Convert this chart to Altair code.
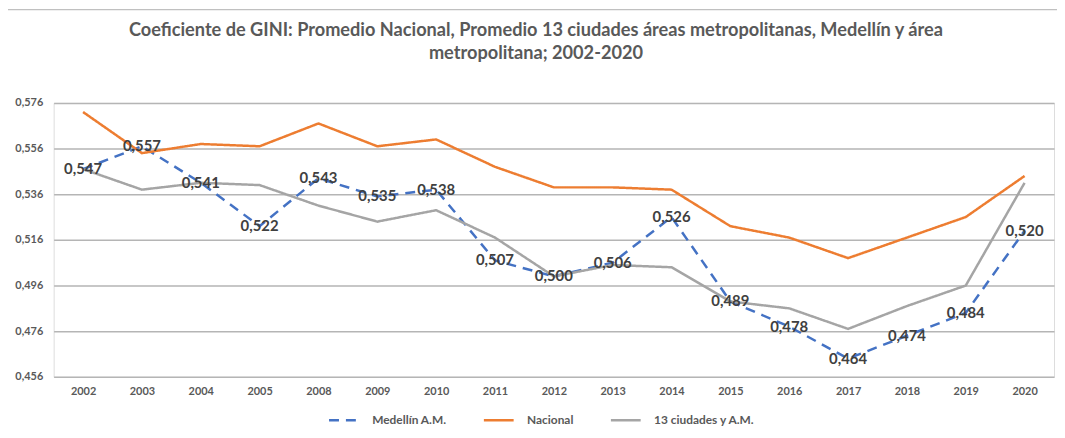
import altair as alt
import pandas as pd

years = ["2002", "2003", "2004", "2005", "2008", "2009", "2010", "2011", "2012",
         "2013", "2014", "2015", "2016", "2017", "2018", "2019", "2020"]
medellin = [0.547, 0.557, 0.541, 0.522, 0.543, 0.535, 0.538, 0.507, 0.500,
            0.506, 0.526, 0.489, 0.478, 0.464, 0.474, 0.484, 0.520]
nacional = [0.572, 0.554, 0.558, 0.557, 0.567, 0.557, 0.560, 0.548, 0.539,
            0.539, 0.538, 0.522, 0.517, 0.508, 0.517, 0.526, 0.544]
ciudades = [0.547, 0.538, 0.541, 0.540, 0.531, 0.524, 0.529, 0.517, 0.500,
            0.505, 0.504, 0.489, 0.486, 0.477, 0.487, 0.496, 0.541]
series_names = ["Medellín A.M.", "Nacional", "13 ciudades y A.M."]
series_colors = ["#4472C4", "#ED7D31", "#A5A5A5"]
y_ticks = [0.456, 0.476, 0.496, 0.516, 0.536, 0.556, 0.576]
title_lines = ["Coeficiente de GINI: Promedio Nacional, Promedio 13 ciudades áreas metropolitanas, Medellín y área",
               "metropolitana; 2002-2020"]

rows = []
for name, vals in zip(series_names, [medellin, nacional, ciudades]):
    for y, v in zip(years, vals):
        rows.append({"anio": y, "valor": v, "serie": name})
df = pd.DataFrame(rows)

FONT = "Lato"
fmt = "replace(format(datum.value, '.3f'), '.', ',')"

x_enc = alt.X("anio:N", sort=years, scale=alt.Scale(type="point", padding=0.5),
              axis=alt.Axis(title=None, labelFont=FONT, labelFontSize=11, labelFontWeight="bold",
                            labelColor="#595959", labelPadding=9, ticks=False, domain=False,
                            grid=False, labelAngle=0))
y_enc = alt.Y("valor:Q", scale=alt.Scale(domain=[0.456, 0.576], nice=False, zero=False),
              axis=alt.Axis(title=None, values=y_ticks, labelExpr=fmt, labelFont=FONT,
                            labelFontSize=11, labelFontWeight="bold", labelColor="#595959",
                            labelPadding=11, ticks=False, domain=False, grid=True,
                            gridColor="#b5b5b5", gridWidth=1.5))

legend = alt.Legend(title=None, orient="none", legendX=276, legendY=303,
                    direction="horizontal", symbolType="stroke",
                    symbolSize=900, symbolStrokeWidth=2.5,
                    labelFont=FONT, labelFontSize=12, labelFontWeight="bold",
                    labelColor="#595959", labelOffset=12, columnPadding=32)

base = alt.Chart(df)

lines = base.mark_line(strokeWidth=2.5).encode(
    x=x_enc,
    y=y_enc,
    color=alt.Color("serie:N", scale=alt.Scale(domain=series_names, range=series_colors),
                    sort=series_names, legend=legend),
    strokeDash=alt.StrokeDash("serie:N", scale=alt.Scale(domain=series_names,
                                                         range=[[10, 7], [1, 0], [1, 0]]),
                              sort=series_names, legend=legend),
    order=alt.Order("anio:N"),
)

labels = base.transform_filter(alt.datum.serie == "Medellín A.M.").transform_calculate(
    etiqueta="replace(format(datum.valor, '.3f'), '.', ',')"
).mark_text(font=FONT, fontSize=15, fontWeight="bold", color="#404040",
            align="center", baseline="middle").encode(
    x=alt.X("anio:N", sort=years), y="valor:Q", text="etiqueta:N")

frame_df = pd.DataFrame({"k": [0]})
top_line = alt.Chart(frame_df).mark_rule(color="#c0c0c0", strokeWidth=1.5).encode(
    x=alt.value(-47), x2=alt.value(1011), y=alt.value(-94))
left_line = alt.Chart(frame_df).mark_rule(color="#c0c0c0", strokeWidth=1.5).encode(
    x=alt.value(-47), y=alt.value(-94), y2=alt.value(336))

title = alt.Chart(frame_df).mark_text(
    font=FONT, fontSize=18.3, fontWeight="bold", color="#595959",
    align="center", baseline="middle", lineHeight=23).encode(
    x=alt.value(486), y=alt.value(-72), text=alt.value(title_lines))

chart = alt.layer(top_line, left_line, title, lines, labels).properties(
    width=1008, height=276,
    padding={"left": 46, "top": 94, "right": 3, "bottom": 60},
    autosize=alt.AutoSizeParams(type="none"),
).configure_view(stroke=None).configure(background="white")

chart.save("out.html", embed_options={"renderer": "svg", "actions": False})
